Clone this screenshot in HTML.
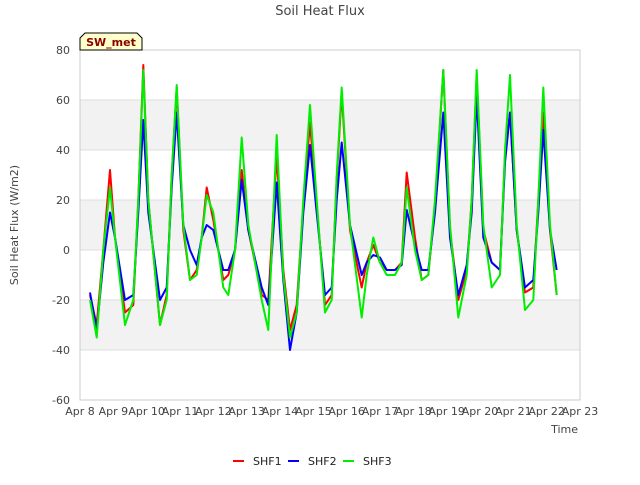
<!DOCTYPE html>
<html><head><meta charset="utf-8"><style>
body{margin:0;background:#fff;font-family:"Liberation Sans","DejaVu Sans",sans-serif;}
svg text{font-family:"DejaVu Sans","Liberation Sans",sans-serif;}
</style></head><body>
<svg id="chart" width="640" height="480" xmlns="http://www.w3.org/2000/svg">
<rect width="640" height="480" fill="#fff"/>
<text x="320" y="15" text-anchor="middle" font-size="13" fill="#444">Soil Heat Flux</text>
<g id="plot"></g>
<text transform="translate(18,225) rotate(-90)" text-anchor="middle" font-size="11" fill="#444">Soil Heat Flux (W/m2)</text>
<text x="578" y="433" text-anchor="end" font-size="11" fill="#444">Time</text>
<g>
<path d="M80,50 L80,38 L85,33 L137,33 L142,38 L142,50 Z" fill="#ffffcc" stroke="#000" stroke-width="1"/>
<text x="111" y="46" text-anchor="middle" font-size="11" font-weight="bold" fill="#8b0000">SW_met</text>
</g>
<g id="legend"></g>
</svg>
<script>
const times=[0.3,0.5,0.7,0.9,1.05,1.35,1.6,1.75,1.9,2.05,2.4,2.6,2.75,2.9,3.1,3.3,3.5,3.65,3.8,4.0,4.3,4.45,4.65,4.85,5.05,5.45,5.65,5.9,6.1,6.3,6.5,6.7,6.9,7.1,7.35,7.55,7.7,7.85,8.1,8.45,8.6,8.8,9.0,9.2,9.45,9.65,9.8,10.05,10.25,10.45,10.65,10.9,11.1,11.35,11.6,11.75,11.9,12.1,12.35,12.6,12.75,12.9,13.1,13.35,13.6,13.75,13.9,14.1,14.3];
const shf1=[-18,-30,0,32,5,-25,-22,20,74,20,-30,-18,30,65,8,-12,-8,5,25,12,-12,-10,0,32,8,-18,-20,38,-8,-32,-22,18,51,18,-22,-18,28,63,8,-15,-5,2,-5,-8,-8,-5,31,5,-12,-10,18,72,8,-20,-8,20,70,8,-5,-8,38,55,8,-17,-15,20,55,8,-18];
const shf2=[-17,-32,-5,15,5,-20,-18,15,52,15,-20,-15,25,55,10,0,-6,5,10,8,-8,-8,0,28,8,-15,-22,27,-12,-40,-25,15,42,15,-18,-15,20,43,10,-10,-5,-2,-3,-8,-8,-6,16,2,-8,-8,15,55,5,-18,-6,15,62,5,-5,-8,35,55,8,-15,-12,15,48,8,-8];
const shf3=[-20,-35,0,25,5,-30,-20,20,72,20,-30,-20,30,66,10,-12,-10,5,22,15,-15,-18,0,45,10,-20,-32,46,-10,-35,-25,20,58,20,-25,-20,30,65,10,-27,-10,5,-5,-10,-10,-5,25,0,-12,-10,20,72,10,-27,-10,20,72,10,-15,-10,40,70,10,-24,-20,20,65,10,-18];
const yTicks=[-60,-40,-20,0,20,40,60,80];
const xTickLabels=["Apr 8","Apr 9","Apr 10","Apr 11","Apr 12","Apr 13","Apr 14","Apr 15","Apr 16","Apr 17","Apr 18","Apr 19","Apr 20","Apr 21","Apr 22","Apr 23"];
const seriesNames=["SHF1","SHF2","SHF3"];
const seriesColors=["#ff0000","#0000ff","#00ee00"];
const NS="http://www.w3.org/2000/svg";
const X0=80,X1=580,Y0=400,Y1=50;
const xs=d=>X0+(X1-X0)*d/15;
const ys=v=>Y0-(Y0-Y1)*(v+60)/140;
const plot=document.getElementById('plot');
function mk(t,a,p){const e=document.createElementNS(NS,t);for(const k in a)e.setAttribute(k,a[k]);(p||plot).appendChild(e);return e;}
for(let i=0;i<yTicks.length-1;i++){
 if(yTicks[i]===-40||yTicks[i]===0||yTicks[i]===40){
  const r=mk('rect',{x:X0,y:ys(yTicks[i]+20),width:X1-X0,height:ys(yTicks[i])-ys(yTicks[i]+20),fill:'#f2f2f2'});
  
  
 }
}
yTicks.forEach(v=>{
 const l=mk('line',{x1:X0,x2:X1,y1:ys(v),y2:ys(v),stroke:'#dddddd'});
 
 
 const t=mk('text',{x:X0-10,y:ys(v)+4,'text-anchor':'end','font-size':'11',fill:'#444'});
 t.textContent=v;
 
 
});
mk('rect',{x:X0,y:Y1,width:X1-X0,height:Y0-Y1,fill:'none',stroke:'#cccccc'});
xTickLabels.forEach((s,i)=>{
 const t=mk('text',{x:xs(i),y:Y0+15,'text-anchor':'middle','font-size':'11',fill:'#444'});
 t.textContent=s;
 
 
});
[shf1,shf2,shf3].forEach((vals,k)=>{
 const d=vals.map((v,i)=>(i?'L':'M')+xs(times[i]).toFixed(1)+','+ys(v).toFixed(1)).join('');
 const p=mk('path',{d:d,fill:'none',stroke:seriesColors[k],'stroke-width':2,'stroke-linejoin':'round'});
 
 
});
const lg=document.getElementById('legend');
const lx=[233,288,343];
seriesNames.forEach((n,k)=>{
 const l=mk('line',{x1:lx[k],x2:lx[k]+11,y1:461,y2:461,stroke:seriesColors[k],'stroke-width':2},lg);
 
 
 const t=mk('text',{x:lx[k]+20,y:465,'font-size':'11',fill:'#222'},lg);
 t.textContent=n;
 
 
});
</script>
</body></html>
